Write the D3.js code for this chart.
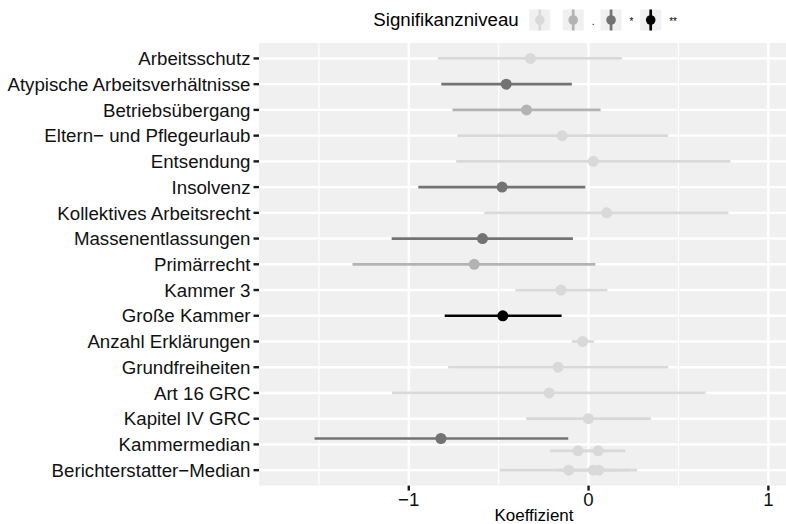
<!DOCTYPE html>
<html>
<head>
<meta charset="utf-8">
<script src="https://cdn.jsdelivr.net/npm/d3@7"></script>
<style>
  html, body { margin: 0; padding: 0; background: #ffffff; }
  svg { display: block; }
  text { font-family: "Liberation Sans", Arial, Helvetica, sans-serif; }
</style>
</head>
<body>
<svg id="chart" width="786" height="524"></svg>
<script>
// Regression terms, top to bottom
const terms = [
  "Arbeitsschutz",
  "Atypische Arbeitsverhältnisse",
  "Betriebsübergang",
  "Eltern− und Pflegeurlaub",
  "Entsendung",
  "Insolvenz",
  "Kollektives Arbeitsrecht",
  "Massenentlassungen",
  "Primärrecht",
  "Kammer 3",
  "Große Kammer",
  "Anzahl Erklärungen",
  "Grundfreiheiten",
  "Art 16 GRC",
  "Kapitel IV GRC",
  "Kammermedian",
  "Berichterstatter−Median"
];

// One entry per estimate: term, offset within the row (in row units), coefficient, interval, significance level
const entryTerm = [
  "Arbeitsschutz", "Atypische Arbeitsverhältnisse", "Betriebsübergang",
  "Eltern− und Pflegeurlaub", "Entsendung", "Insolvenz",
  "Kollektives Arbeitsrecht", "Massenentlassungen", "Primärrecht",
  "Kammer 3", "Große Kammer", "Anzahl Erklärungen", "Grundfreiheiten",
  "Art 16 GRC", "Kapitel IV GRC",
  "Kammermedian", "Kammermedian", "Kammermedian",
  "Berichterstatter−Median", "Berichterstatter−Median", "Berichterstatter−Median"
];
const entryOffset = [
  0, 0, 0, 0, 0, 0, 0, 0, 0, 0, 0, 0, 0, 0, 0,
  -0.23, 0.25, 0.25,
  0, 0, 0
];
const estimate = [
  -0.323, -0.458, -0.345, -0.147, 0.026, -0.481, 0.101, -0.590, -0.636,
  -0.153, -0.477, -0.033, -0.170, -0.219, -0.001,
  -0.821, -0.059, 0.053,
  -0.110, 0.026, 0.057
];
const lower = [
  -0.838, -0.819, -0.757, -0.730, -0.736, -0.947, -0.580, -1.095, -1.313,
  -0.407, -0.800, -0.093, -0.781, -1.093, -0.347,
  -1.524, -0.215, -0.090,
  -0.493, -0.180, -0.150
];
const upper = [
  0.185, -0.093, 0.067, 0.443, 0.789, -0.018, 0.778, -0.087, 0.038,
  0.105, -0.150, 0.031, 0.443, 0.651, 0.347,
  -0.113, 0.098, 0.204,
  0.140, 0.230, 0.270
];
const signif = [
  "", "*", ".", "", "", "*", "", "*", ".",
  "", "**", "", "", "", "",
  "*", "", "",
  "", "", ""
];

// Significance levels and their greys
const levels = ["", ".", "*", "**"];
const levelColors = ["#d9d9d9", "#b3b3b3", "#737373", "#000000"];

// Axis ticks
const majorTicks = [-1, 0, 1];
const minorTicks = [-1.5, -0.5, 0.5, 1.5];
const tickLabels = ["−1", "0", "1"];

const svg = d3.select("#chart");

const panel = { left: 259, right: 809, top: 43, bottom: 485.6 };

const x = d3.scaleLinear().domain([-1.833, 1.226]).range([panel.left, panel.right]);
const y = d3.scalePoint().domain(terms).range([panel.top, panel.bottom]).padding(0.6);
const color = d3.scaleOrdinal().domain(levels).range(levelColors);

// Panel background
svg.append("rect")
  .attr("x", panel.left).attr("y", panel.top)
  .attr("width", panel.right - panel.left).attr("height", panel.bottom - panel.top)
  .attr("fill", "#f0f0f0");

const grid = svg.append("g");
grid.selectAll("line.minor").data(minorTicks).join("line")
  .attr("class", "minor")
  .attr("x1", d => x(d)).attr("x2", d => x(d))
  .attr("y1", panel.top).attr("y2", panel.bottom)
  .attr("stroke", "#ffffff").attr("stroke-width", 1.2);
grid.selectAll("line.majorx").data(majorTicks).join("line")
  .attr("class", "majorx")
  .attr("x1", d => x(d)).attr("x2", d => x(d))
  .attr("y1", panel.top).attr("y2", panel.bottom)
  .attr("stroke", "#ffffff").attr("stroke-width", 2.4);
grid.selectAll("line.majory").data(terms).join("line")
  .attr("class", "majory")
  .attr("x1", panel.left).attr("x2", panel.right)
  .attr("y1", d => y(d)).attr("y2", d => y(d))
  .attr("stroke", "#ffffff").attr("stroke-width", 2.4);

// Point ranges
const entries = entryTerm.map((t, i) => ({
  term: t, off: entryOffset[i], est: estimate[i], lo: lower[i], hi: upper[i], sig: signif[i]
}));
const rowY = d => y(d.term) + d.off * y.step();

const marks = svg.append("g");
marks.selectAll("line").data(entries).join("line")
  .attr("x1", d => x(d.lo)).attr("x2", d => x(d.hi))
  .attr("y1", rowY).attr("y2", rowY)
  .attr("stroke", d => color(d.sig)).attr("stroke-width", 2.7);
marks.selectAll("circle").data(entries).join("circle")
  .attr("cx", d => x(d.est)).attr("cy", rowY).attr("r", 5.5)
  .attr("fill", d => color(d.sig));

// Y axis
const yAxis = svg.append("g");
yAxis.selectAll("line").data(terms).join("line")
  .attr("x1", panel.left - 5.5).attr("x2", panel.left)
  .attr("y1", d => y(d)).attr("y2", d => y(d))
  .attr("stroke", "#1a1a1a").attr("stroke-width", 2.4);
yAxis.selectAll("text").data(terms).join("text")
  .attr("x", panel.left - 8.5).attr("y", d => y(d))
  .attr("dy", "0.36em")
  .attr("text-anchor", "end")
  .attr("font-size", 18.7)
  .attr("fill", "#111111")
  .text(d => d);

// X axis
const xAxis = svg.append("g");
xAxis.selectAll("line").data(majorTicks).join("line")
  .attr("x1", d => x(d)).attr("x2", d => x(d))
  .attr("y1", panel.bottom).attr("y2", panel.bottom + 5)
  .attr("stroke", "#1a1a1a").attr("stroke-width", 2.4);
xAxis.selectAll("text").data(majorTicks).join("text")
  .attr("x", d => x(d)).attr("y", 506)
  .attr("text-anchor", "middle")
  .attr("font-size", 18.7)
  .attr("fill", "#111111")
  .text((d, i) => tickLabels[i]);

svg.append("text")
  .attr("x", (panel.left + panel.right) / 2).attr("y", 521)
  .attr("text-anchor", "middle")
  .attr("font-size", 17)
  .attr("fill", "#000000")
  .text("Koeffizient");

// Legend
const legend = svg.append("g");
legend.append("text")
  .attr("x", 373.3).attr("y", 26)
  .attr("font-size", 18.7)
  .attr("fill", "#000000")
  .text("Signifikanzniveau");

const keySize = 21;
const keyTop = 9.5;
let keyX = 529.3;
levels.forEach((lv, i) => {
  const g = legend.append("g");
  g.append("rect")
    .attr("x", keyX).attr("y", keyTop)
    .attr("width", keySize).attr("height", keySize)
    .attr("fill", "#f0f0f0");
  g.append("line")
    .attr("x1", keyX + keySize / 2).attr("x2", keyX + keySize / 2)
    .attr("y1", keyTop).attr("y2", keyTop + keySize)
    .attr("stroke", color(lv)).attr("stroke-width", 2.7);
  g.append("circle")
    .attr("cx", keyX + keySize / 2).attr("cy", keyTop + keySize / 2)
    .attr("r", 4.8).attr("fill", color(lv));
  const label = g.append("text")
    .attr("x", keyX + keySize + 8)
    .attr("y", 25)
    .attr("font-size", 10)
    .attr("fill", "#000000")
    .text(lv);
  const w = lv ? label.node().getComputedTextLength() : 0;
  keyX = keyX + keySize + 12.4 + w * 1.6;
});
</script>
</body>
</html>
